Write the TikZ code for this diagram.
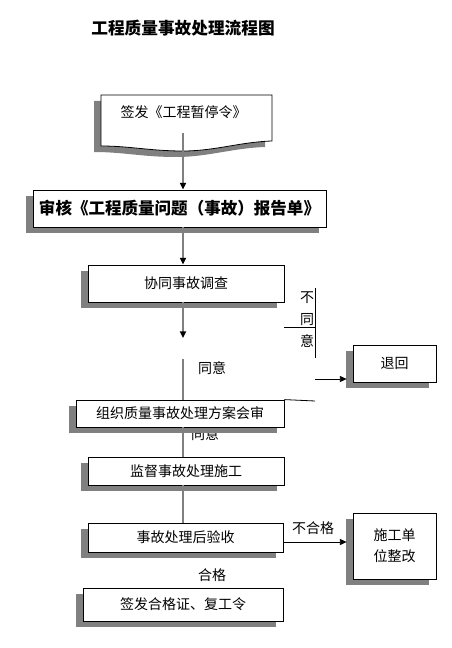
\documentclass[tikz,border=0pt]{standalone}
\usepackage{fontspec}
\setmainfont{Noto Sans CJK SC}
\usetikzlibrary{arrows.meta, shadows}

\begin{document}
\begin{tikzpicture}[x=0.75pt, y=-0.75pt,
					>={Triangle[length=5pt, width=4.5pt, black]},
					font=\fontsize{10.5}{13}\selectfont,
					box/.style={draw, semithick, fill=white, inner sep=0pt, align=center,
						drop shadow={shadow xshift=-5.25pt, shadow yshift=-4.5pt, fill=gray, opacity=1}},
					flow/.style={draw=gray, line width=1.2pt},
					side/.style={draw=black, semithick}]

\useasboundingbox (0,0) rectangle (451,648);

\node[font=\fontsize{12.5}{15}\selectfont\bfseries] (title) at (183,28) {工程质量事故处理流程图};

\fill[gray, shift={(-7,6)}] (101,95) -- (272,95) -- (272,141) .. controls (240,142) and (215,151) .. (183,151) .. controls (150,151) and (130,146) .. (101,146) -- cycle;
\draw[semithick, fill=white] (101,95) -- (272,95) -- (272,141) .. controls (240,142) and (215,151) .. (183,151) .. controls (150,151) and (130,146) .. (101,146) -- cycle;
\node (order) at (183.5,112) {签发《工程暂停令》};
\coordinate (orderend) at (183,133);

\node[box, minimum width=219.75pt, minimum height=27.75pt, font=\fontsize{12.4}{15}\selectfont\bfseries] (review) at (179.5,208.5) {审核《工程质量问题（事故）报告单》};
\node[box, minimum width=147pt, minimum height=27.75pt] (survey) at (186,283.5) {协同事故调查};
\node (agree2) at (205,434) {同意};
\node[box, minimum width=156pt, minimum height=20.25pt] (meet) at (180,413.5) {组织质量事故处理方案会审};
\node[box, minimum width=147pt, minimum height=21pt] (supervise) at (186,471) {监督事故处理施工};
\node[box, minimum width=146.25pt, minimum height=21.75pt] (accept) at (185.7,537.5) {事故处理后验收};
\node[box, minimum width=150pt, minimum height=24.75pt] (issue) at (183,604.5) {签发合格证、复工令};
\node[box, minimum width=62.25pt, minimum height=27.75pt] (back) at (394.5,363.5) {退回};
\node[box, minimum width=62.25pt, minimum height=49.5pt, font=\fontsize{10.5}{15.75}\selectfont] (rectify) at (394.5,546) {施工单\\位整改};

\coordinate (agreetip) at (183,338);
\coordinate (agreeback) at (183,359);
\draw[flow, ->] (orderend) -- (orderend |- review.north);
\draw[flow, ->] (orderend |- review.south) -- (orderend |- survey.north);
\draw[flow, ->] (orderend |- survey.south) -- (agreetip);
\draw[flow] (agreeback) -- (agreeback |- meet.north);
\draw[flow] (agreeback |- meet.south) -- (agreeback |- supervise.north);
\draw[flow] (agreeback |- supervise.south) -- (agreeback |- accept.north);
\node (agree1) at (212,368) {同意};

\coordinate (refusetop) at (315,288);
\coordinate (refusebot) at (315,358);
\coordinate (refusejoin) at (315,327);
\coordinate (backfrom) at (315,379);
\coordinate (meetedge) at (315,401);
\coordinate (failfrom) at (283,542);
\node[align=center, font=\fontsize{10.5}{16.5}\selectfont] (refuse) at (307,320) {不\\同\\意};
\draw[side] (refusetop) -- (refusebot);
\draw[side] (survey.east |- refusejoin) -- (refusejoin);
\draw[side, ->, shorten >=4.5pt] (backfrom) -- (backfrom -| back.west);
\draw[side] (meet.north east) -- (meetedge);
\draw[side, ->, shorten >=4.5pt] (failfrom) -- (failfrom -| rectify.west);
\node (fail) at (313,528) {不合格};
\node (pass) at (212,575) {合格};
\end{tikzpicture}
\end{document}
